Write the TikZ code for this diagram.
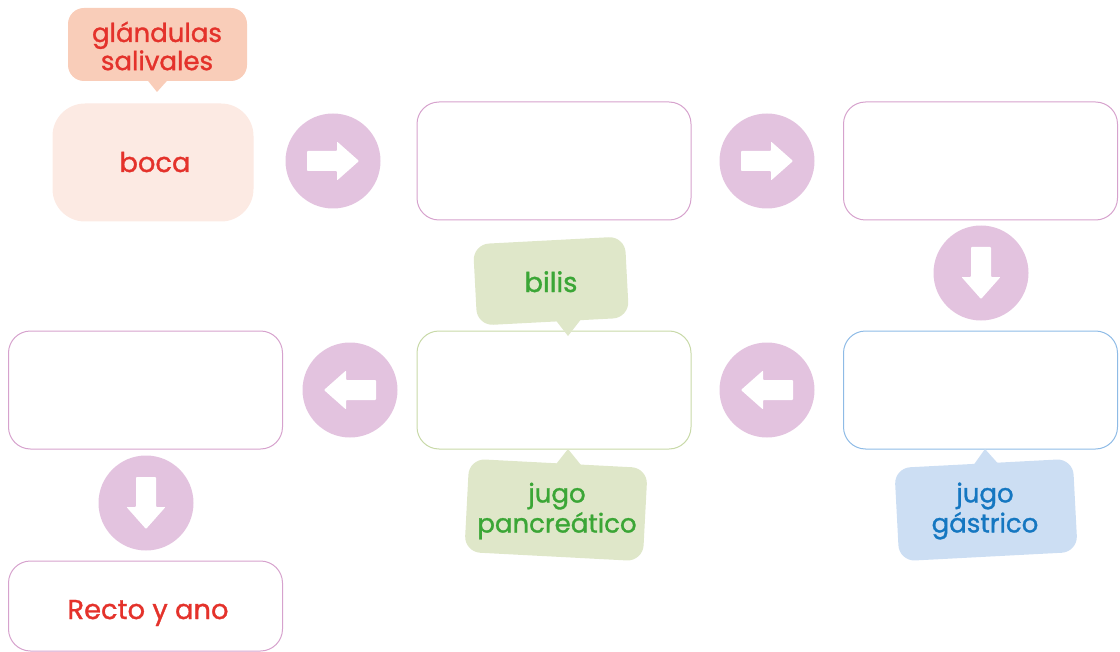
\documentclass[tikz,border=0pt]{standalone}
\usepackage{fontspec}
\setmainfont{Poppins}[FakeBold=1.2]
\usetikzlibrary{calc}
\definecolor{circfill}{HTML}{E3C3DF}
\definecolor{pinkline}{HTML}{D6A2CD}
\definecolor{greenline}{HTML}{C8D9A8}
\definecolor{blueline}{HTML}{8EBBE6}
\definecolor{bocafill}{HTML}{FCEAE3}
\definecolor{glandfill}{HTML}{F9CDB9}
\definecolor{redtxt}{HTML}{E4322B}
\definecolor{greenfill}{HTML}{DFE7C9}
\definecolor{greentxt}{HTML}{3BA636}
\definecolor{bluefill}{HTML}{CCDEF3}
\definecolor{bluetxt}{HTML}{1577C1}
\begin{document}
\begin{tikzpicture}[x=0.75pt,y=-0.75pt,
  box/.style={draw=pinkline, line width=0.75pt, rounded corners=16.5pt,
    minimum width=205.5pt, minimum height=88.5pt, inner sep=0pt},
  txt/.style={font=\fontsize{20.5}{20}\selectfont, align=center, inner sep=0pt},
  ctxt/.style={font=\fontsize{19.5}{17}\selectfont, align=center, inner sep=0pt},
  circ/.style={circle, fill=circfill, minimum size=71.25pt, inner sep=0pt},
  bubble/.style={rounded corners=12pt, inner sep=0pt},
  blockarrow/.pic={\fill[white, rounded corners=0.6pt] (-26,-10) -- (4,-10) -- (4,-19.5) -- (26,0) -- (4,19.5) -- (4,10) -- (-26,10) -- cycle;}
]
\useasboundingbox (0,0) rectangle (1120,652);
\clip (0,0) rectangle (1120,652);

% boxes
\node[box, draw=bocafill, fill=bocafill, rounded corners=24pt, minimum width=150pt, minimum height=87.75pt] (boca) at (153,162.5) {};
\node[txt, text=redtxt, anchor=base] (bocat) at (155,172) {boca};
\node[box] (b2) at (554,161) {};
\node[box] (b3) at (980.5,161) {};
\node[box, draw=blueline] (b4) at (980.5,390) {};
\node[box, draw=greenline] (b5) at (554,390) {};
\node[box] (b6) at (145.5,390) {};
\node[box, minimum height=67.5pt] (b7) at (145.5,606) {};
\node[txt, text=redtxt, anchor=base] (b7t) at (148,619) {Recto y ano};

% arrow circles
\node[circ] (c1) at (333,161) {};
\node[circ] (c2) at (767,161) {};
\node[circ] (c3) at (981,273) {};
\node[circ] (c4) at (767,390) {};
\node[circ] (c5) at (350,390) {};
\node[circ] (c6) at (146,503) {};
\pic at (c1) {blockarrow};
\pic at (c2) {blockarrow};
\pic[rotate=-90] at (c3) {blockarrow};
\pic[rotate=180] at (c4) {blockarrow};
\pic[rotate=180] at (c5) {blockarrow};
\pic[rotate=-90] at (c6) {blockarrow};

% glandulas callout
\node[bubble, fill=glandfill, minimum width=134.25pt, minimum height=54.75pt] (gland) at (157.5,44.5) {};
\coordinate (glandtip) at (157,92);
\fill[glandfill] ($(gland.south)+(-10,-1)$) -- ($(gland.south)+(10,-1)$) -- (glandtip) -- cycle;
\node[ctxt, text=redtxt] (glandt) at (157,46) {glándulas\\salivales};

% bilis callout
\node[bubble, fill=greenfill, rotate=3, minimum width=114pt, minimum height=61pt] (bilis) at (551,281) {};
\coordinate (bilistip) at (568,336);
\fill[greenfill] (554,318) -- (582,318) -- (bilistip) -- cycle;
\node[txt, text=greentxt, anchor=base] (bilist) at (551,292) {bilis};

% jugo pancreatico
\node[bubble, fill=greenfill, rotate=-3, minimum width=134pt, minimum height=70pt] (panc) at (556,510) {};
\coordinate (panctip) at (568,449);
\fill[greenfill] (553,468) -- (585,470) -- (panctip) -- cycle;
\node[ctxt, text=greentxt, font=\fontsize{19.5}{22.5}\selectfont] (panct) at (557,511) {jugo\\pancreático};

% jugo gastrico
\node[bubble, fill=bluefill, rotate=3, minimum width=134pt, minimum height=70pt] (gast) at (986,510) {};
\coordinate (gasttip) at (985,449);
\fill[bluefill] (970,470) -- (1002,468) -- (gasttip) -- cycle;
\node[ctxt, text=bluetxt, font=\fontsize{19.5}{22.5}\selectfont] (gastt) at (985,511) {jugo\\gástrico};
\end{tikzpicture}
\end{document}
